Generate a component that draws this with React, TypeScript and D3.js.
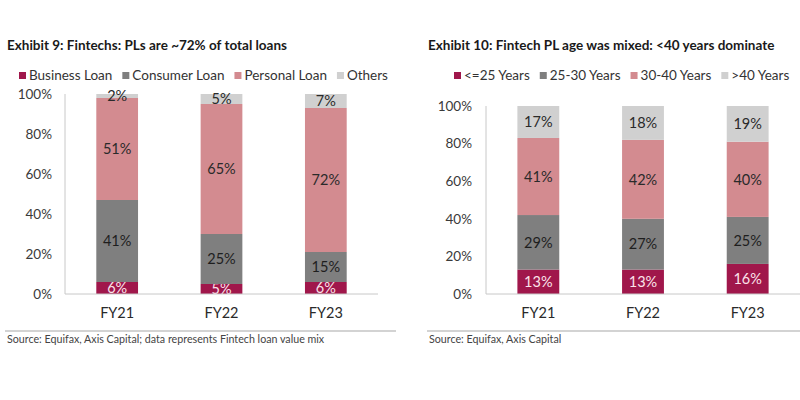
import React, { useEffect, useRef } from 'react';
import * as d3 from 'd3';

const years = ['FY21', 'FY22', 'FY23'];
const yTicks = [0, 20, 40, 60, 80, 100];

// Exhibit 9 - loan mix
const loanTypes = ['Business Loan', 'Consumer Loan', 'Personal Loan', 'Others'];
const businessLoan = [6, 5, 6];
const consumerLoan = [41, 25, 15];
const personalLoan = [51, 65, 72];
const othersLoan = [2, 5, 7];

// Exhibit 10 - age mix
const ageGroups = ['<=25 Years', '25-30 Years', '30-40 Years', '>40 Years'];
const ageUnder25 = [13, 13, 16];
const age25to30 = [29, 27, 25];
const age30to40 = [41, 42, 40];
const ageOver40 = [17, 18, 19];

const colors = ['#a0174b', '#7f7f7f', '#d38b90', '#d0d0d0'];
const labelColors = ['#fbe3ea', '#1e1e1e', '#2a2a2a', '#2a2a2a'];
const FONT = 'Lato, "Open Sans", sans-serif';

type Panel = {
  title: string;
  titleX: number;
  keys: string[];
  series: number[][];
  legendX: number;
  axisX: number;
  right: number;
  top: number;
  yLabelX: number;
  sepX0: number;
  sepX1: number;
  source: string;
};

const drawPanel = (svg: any, p: Panel) => {
  const bottom = 294;
  const rows = years.map((yr, i) => {
    const r: any = { year: yr };
    p.keys.forEach((k, j) => (r[k] = p.series[j][i]));
    return r;
  });
  const stacked = d3.stack<any>().keys(p.keys)(rows);

  const x = d3.scaleBand().domain(years).range([p.axisX, p.right])
    .paddingInner(0.6).paddingOuter(0.3);
  const y = d3.scaleLinear().domain([0, 100]).range([bottom, p.top]);

  // title
  svg.append('text')
    .attr('x', p.titleX).attr('y', 50)
    .attr('font-family', FONT).attr('font-weight', 'bold').attr('font-size', 13.5)
    .attr('fill', '#1a1a1a')
    .text(p.title);

  // legend
  let lx = p.legendX;
  p.keys.forEach((k, j) => {
    svg.append('rect')
      .attr('x', lx).attr('y', 72).attr('width', 7).attr('height', 7)
      .attr('fill', colors[j]);
    const t = svg.append('text')
      .attr('x', lx + 10).attr('y', 80)
      .attr('font-family', FONT).attr('font-size', 13.5).attr('fill', '#333')
      .text(k);
    lx += 10 + t.node().getComputedTextLength() + 10;
  });

  // bars
  stacked.forEach((layer: any, j: number) => {
    const g = svg.append('g');
    g.selectAll('rect')
      .data(layer)
      .enter()
      .append('rect')
      .attr('x', (d: any) => x(d.data.year))
      .attr('y', (d: any) => y(d[1]))
      .attr('width', x.bandwidth())
      .attr('height', (d: any) => y(d[0]) - y(d[1]))
      .attr('fill', colors[j]);
    g.selectAll('text')
      .data(layer)
      .enter()
      .append('text')
      .attr('x', (d: any) => (x(d.data.year) as number) + x.bandwidth() / 2)
      .attr('y', (d: any) => (y(d[0]) + y(d[1])) / 2)
      .attr('dy', '0.36em')
      .attr('text-anchor', 'middle')
      .attr('font-family', FONT).attr('font-size', 14.5)
      .attr('fill', labelColors[j])
      .text((d: any) => `${d[1] - d[0]}%`);
  });

  // y axis
  svg.append('line')
    .attr('x1', p.axisX).attr('x2', p.axisX)
    .attr('y1', p.top).attr('y2', bottom)
    .attr('stroke', '#c8c8c8');
  svg.append('g')
    .selectAll('text')
    .data(yTicks)
    .enter()
    .append('text')
    .attr('x', p.yLabelX)
    .attr('y', (d: number) => y(d))
    .attr('dy', '0.36em')
    .attr('text-anchor', 'end')
    .attr('font-family', FONT).attr('font-size', 13.5).attr('fill', '#3a3a3a')
    .text((d: number) => `${d}%`);

  // x axis
  svg.append('line')
    .attr('x1', p.axisX).attr('x2', p.right)
    .attr('y1', bottom).attr('y2', bottom)
    .attr('stroke', '#c8c8c8');
  svg.append('g')
    .selectAll('text')
    .data(years)
    .enter()
    .append('text')
    .attr('x', (d: string) => (x(d) as number) + x.bandwidth() / 2)
    .attr('y', 318)
    .attr('text-anchor', 'middle')
    .attr('font-family', FONT).attr('font-size', 14.5).attr('fill', '#2a2a2a')
    .text((d: string) => d);

  // separator + source
  svg.append('line')
    .attr('x1', p.sepX0).attr('x2', p.sepX1)
    .attr('y1', 331).attr('y2', 331)
    .attr('stroke', '#a8a8a8').attr('stroke-width', 1.2);
  svg.append('text')
    .attr('x', p.sepX0 + 2).attr('y', 343)
    .attr('font-family', FONT).attr('font-size', 10.7).attr('fill', '#444')
    .text(p.source);
};

const App = () => {
  const ref = useRef<SVGSVGElement>(null);

  useEffect(() => {
    const svg = d3.select(ref.current);
    svg.selectAll('*').remove();
    svg.append('rect').attr('width', 800).attr('height', 400).attr('fill', '#fff');

    drawPanel(svg, {
      title: 'Exhibit 9: Fintechs: PLs are ~72% of total loans',
      titleX: 7,
      keys: loanTypes,
      series: [businessLoan, consumerLoan, personalLoan, othersLoan],
      legendX: 19,
      axisX: 65,
      right: 378,
      top: 94,
      yLabelX: 52,
      sepX0: 5,
      sepX1: 396,
      source: 'Source: Equifax, Axis Capital; data represents Fintech loan value mix',
    });

    drawPanel(svg, {
      title: 'Exhibit 10: Fintech PL age was mixed: <40 years dominate',
      titleX: 428,
      keys: ageGroups,
      series: [ageUnder25, age25to30, age30to40, ageOver40],
      legendX: 454,
      axisX: 486,
      right: 800,
      top: 106,
      yLabelX: 472,
      sepX0: 427,
      sepX1: 800,
      source: 'Source: Equifax, Axis Capital',
    });
  }, []);

  return (
    <svg
      ref={ref}
      width={800}
      height={400}
      style={{ position: 'absolute', left: 0, top: 0 }}
    />
  );
};

export default App;
